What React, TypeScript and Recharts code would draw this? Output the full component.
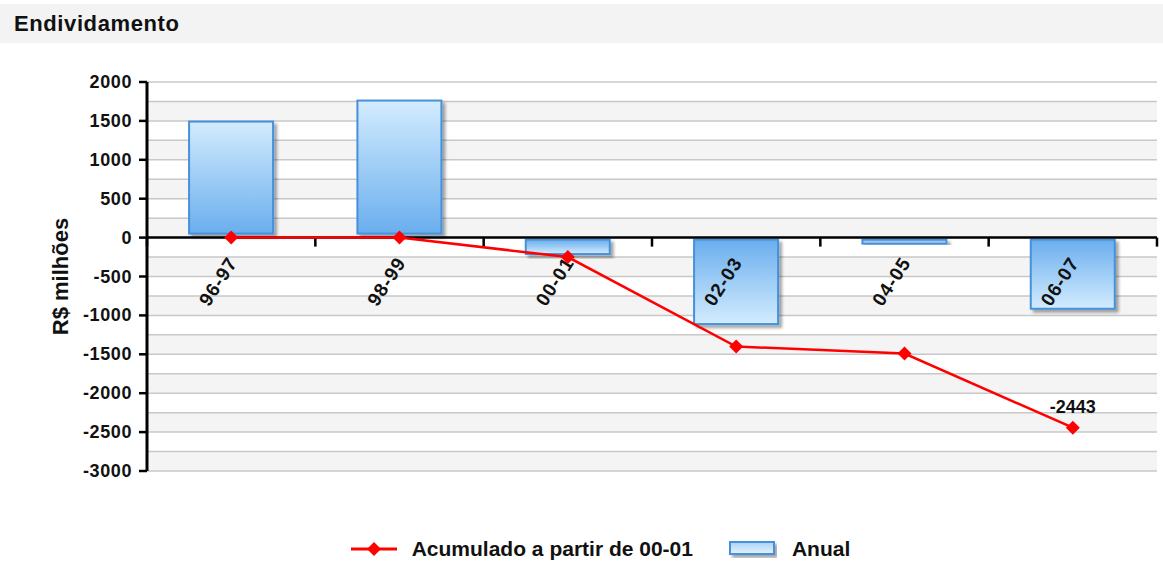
import React from 'react';
import {
  Bar,
  CartesianGrid,
  ComposedChart,
  Legend,
  Line,
  ReferenceArea,
  ReferenceLine,
  XAxis,
  YAxis,
} from 'recharts';

// Valores (R$ milhões)
const TITULO = 'Endividamento';
const CATEGORIAS = ['96-97', '98-99', '00-01', '02-03', '04-05', '06-07'];
const ANUAL = [1440, 1710, -250, -1150, -90, -953];
const ACUMULADO = [0, 0, -250, -1400, -1490, -2443];
const NOME_ANUAL = 'Anual';
const NOME_ACUMULADO = 'Acumulado a partir de 00-01';
const Y_TICKS = [
  -3000, -2750, -2500, -2250, -2000, -1750, -1500, -1250, -1000, -750, -500, -250,
  0, 250, 500, 750, 1000, 1250, 1500, 1750, 2000,
];
const Y_LABEL = 'R$ milhões';

const FONT = '"Liberation Sans", Arial, Helvetica, sans-serif';
const W = 1163;
const H = 563;

const data = CATEGORIAS.map((cat, i) => ({ cat, anual: ANUAL[i], acumulado: ACUMULADO[i] }));

// barras desenhadas com leve deslocamento para cima, como no original
function AnualBar(props: any) {
  const { x, y, width, height, payload } = props;
  if (x == null || y == null) return null;
  const neg = payload && payload.anual < 0;
  let top = Math.min(y, y + height);
  let bottom = Math.max(y, y + height);
  if (neg) {
    top += 2;
    bottom -= 3;
  } else {
    top -= 4;
    bottom -= 4;
  }
  return (
    <rect
      x={x}
      y={top}
      width={width}
      height={Math.max(bottom - top, 4)}
      fill={neg ? 'url(#barNeg)' : 'url(#barPos)'}
      stroke="#4690da"
      strokeWidth={2}
      filter="url(#barShadow)"
    />
  );
}

function Diamond(props: any) {
  const { cx, cy, index } = props;
  if (cx == null || cy == null) return null;
  const r = 7;
  return (
    <polygon
      key={`d-${index}`}
      points={`${cx},${cy - r} ${cx + r},${cy} ${cx},${cy + r} ${cx - r},${cy}`}
      fill="#ff0000"
    />
  );
}

function UltimoValor(props: any) {
  const { x, y, value, index } = props;
  if (index !== ACUMULADO.length - 1) return null;
  return (
    <text
      x={x}
      y={y - 15}
      textAnchor="middle"
      fontFamily={FONT}
      fontWeight="bold"
      fontSize={18}
      fill="#111"
    >
      {value}
    </text>
  );
}

function YTick(props: any) {
  const { x, y, payload } = props;
  const v = payload.value;
  if (v % 500 !== 0) return null;
  return (
    <g>
      <line x1={x + 7} y1={y} x2={x + 15} y2={y} stroke="#000" strokeWidth={2.5} />
      <text
        x={x}
        y={y}
        dy={6}
        textAnchor="end"
        fontFamily={FONT}
        fontWeight="bold"
        fontSize={18}
        letterSpacing={0.6}
        fill="#111"
      >
        {v}
      </text>
    </g>
  );
}

function CategoriaEixo(props: any) {
  const { x, y, width, cat, last } = props;
  if (x == null || y == null) return null;
  const tx = x + width / 2 + 7;
  const ty = y + 25;
  return (
    <g>
      <line x1={x} y1={y} x2={x} y2={y + 9} stroke="#000" strokeWidth={2.5} />
      {last && <line x1={x + width} y1={y} x2={x + width} y2={y + 9} stroke="#000" strokeWidth={2.5} />}
      <text
        x={tx}
        y={ty}
        transform={`rotate(-57, ${tx}, ${ty})`}
        textAnchor="end"
        fontFamily={FONT}
        fontWeight="bold"
        fontSize={19}
        letterSpacing={1}
        fill="#111"
      >
        {cat}
      </text>
    </g>
  );
}

function Legenda(props: any) {
  const items = [...(props.payload || [])].sort(
    (a: any, b: any) => (a.type === 'line' ? 0 : 1) - (b.type === 'line' ? 0 : 1),
  );
  return (
    <div
      style={{
        display: 'flex',
        justifyContent: 'center',
        alignItems: 'center',
        paddingLeft: 74,
        fontFamily: FONT,
        fontWeight: 'bold',
        fontSize: 21,
        color: '#111',
        height: 26,
      }}
    >
      {items.map((it: any) => (
        <div key={it.value} style={{ display: 'flex', alignItems: 'center', marginRight: 36 }}>
          {it.type === 'line' ? (
            <svg width={46} height={16} style={{ marginRight: 15 }}>
              <line x1={0} y1={8} x2={46} y2={8} stroke="#ff0000" strokeWidth={3} />
              <polygon points="23,1 30,8 23,15 16,8" fill="#ff0000" />
            </svg>
          ) : (
            <svg width={48} height={18} style={{ marginRight: 15 }}>
              <rect x={1} y={2} width={44} height={12} fill="url(#legPos)" stroke="#4690da" strokeWidth={2} filter="url(#barShadow)" />
            </svg>
          )}
          <span>{it.value}</span>
        </div>
      ))}
    </div>
  );
}

export default function App() {
  return (
    <div style={{ position: 'absolute', left: 0, top: 0, width: W, height: H, background: '#fff', overflow: 'hidden' }}>
      <div
        style={{
          position: 'absolute',
          left: 0,
          top: 4,
          width: W,
          height: 39,
          background: '#f3f3f3',
          fontFamily: FONT,
          fontWeight: 'bold',
          fontSize: 22,
          letterSpacing: 0.6,
          lineHeight: '39px',
          paddingLeft: 14,
          boxSizing: 'border-box',
          color: '#111',
        }}
      >
        {TITULO}
      </div>
      <div style={{ position: 'absolute', left: 0, top: 0 }}>
        <ComposedChart width={W} height={H} data={data} margin={{ top: 82, right: 6, bottom: 92, left: 0 }} barCategoryGap="25%">
          <defs>
            <linearGradient id="barPos" x1="0" y1="0" x2="0" y2="1">
              <stop offset="0%" stopColor="#d3ecfe" />
              <stop offset="100%" stopColor="#6aaeee" />
            </linearGradient>
            <linearGradient id="barNeg" x1="0" y1="0" x2="0" y2="1">
              <stop offset="0%" stopColor="#6aaeee" />
              <stop offset="100%" stopColor="#d3ecfe" />
            </linearGradient>
            <linearGradient id="legPos" x1="0" y1="0" x2="0" y2="1">
              <stop offset="0%" stopColor="#a9d3f8" />
              <stop offset="100%" stopColor="#e4f3ff" />
            </linearGradient>
            <filter id="barShadow" x="-20%" y="-20%" width="150%" height="150%">
              <feDropShadow dx="3" dy="3" stdDeviation="1.5" floodColor="#000" floodOpacity="0.35" />
            </filter>
          </defs>
          <CartesianGrid
            vertical={false}
            stroke="#c8c8c8"
            strokeWidth={1.5}
            horizontalFill={['#ffffff', '#f4f4f4']}
          />
          <XAxis dataKey="cat" hide />
          <YAxis
            width={147}
            domain={[-3000, 2000]}
            ticks={Y_TICKS}
            interval={0}
            tickSize={8}
            tickMargin={7}
            tickLine={false}
            axisLine={{ stroke: '#000', strokeWidth: 3 }}
            tick={<YTick />}
            label={{
              content: (p: any) => {
                const vb = p.viewBox || {};
                const cx = 68;
                const cy = (vb.y ?? 82) + (vb.height ?? 389) / 2;
                return (
                  <text
                    x={cx}
                    y={cy}
                    transform={`rotate(-90, ${cx}, ${cy})`}
                    textAnchor="middle"
                    fontFamily={FONT}
                    fontWeight="bold"
                    fontSize={22}
                    fill="#111"
                  >
                    {Y_LABEL}
                  </text>
                );
              },
            }}
          />
          <Bar dataKey="anual" name={NOME_ANUAL} shape={<AnualBar />} isAnimationActive={false} legendType="rect" />
          <ReferenceLine y={0} stroke="#000" strokeWidth={2.5} />
          {CATEGORIAS.map((cat, i) => (
            <ReferenceArea
              key={cat}
              x1={cat}
              x2={cat}
              y1={0}
              y2={0}
              ifOverflow="visible"
              zIndex={350}
              shape={(p: any) => <CategoriaEixo {...p} cat={cat} last={i === CATEGORIAS.length - 1} />}
            />
          ))}
          <Line
            dataKey="acumulado"
            name={NOME_ACUMULADO}
            stroke="#ff0000"
            strokeWidth={2.5}
            dot={<Diamond />}
            activeDot={false}
            label={<UltimoValor />}
            isAnimationActive={false}
            legendType="line"
          />
          <Legend
            verticalAlign="middle"
            align="center"
            content={<Legenda />}
            wrapperStyle={{ top: 536, left: 0, width: W }}
          />
        </ComposedChart>
      </div>
    </div>
  );
}
